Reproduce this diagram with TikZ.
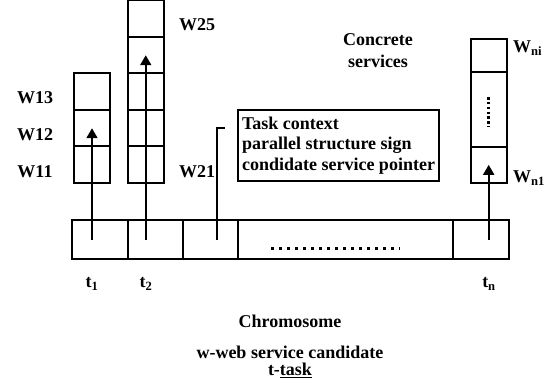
\documentclass[tikz,border=0pt]{standalone}
\usepackage{fontspec}
\setmainfont{Liberation Serif}
\usetikzlibrary{positioning,arrows.meta}
\begin{document}
\begin{tikzpicture}[x=1pt, y=-1pt,
    cell/.style={draw, line width=2pt, inner sep=0pt, outer sep=0pt,
      minimum width=36pt, minimum height=36.5pt},
    gene/.style={draw, line width=2pt, inner sep=0pt, outer sep=0pt,
      minimum height=38.5pt},
    link/.style={line width=2pt, -{Triangle[width=11pt,length=10pt]}},
    lead/.style={line width=2pt},
    dotrow/.style={line width=3pt, dash pattern=on 3pt off 5pt},
    lbl/.style={font=\fontsize{18}{22}\selectfont\bfseries, inner sep=0pt, align=center}]
  \useasboundingbox (0,0) rectangle (550,379);

  % chromosome: one gene per task
  \node[gene, minimum width=55.5pt, anchor=north west] (c1) at (72,220.5) {};
  \node[gene, minimum width=55pt, right=0pt of c1] (c2) {};
  \node[gene, minimum width=55.3pt, right=0pt of c2] (c3) {};
  \node[gene, minimum width=215.5pt, right=0pt of c3] (cdots) {};
  \node[gene, minimum width=55.6pt, right=0pt of cdots] (cn) {};
  \draw[dotrow] (271,248.5) -- (400,248.5);

  % candidate services of t1
  \node[cell, anchor=south west] (w11) at (74,183) {};
  \node[cell, above=0pt of w11] (w12) {};
  \node[cell, above=0pt of w12] (w13) {};
  % candidate services of t2
  \node[cell, minimum width=36.5pt, anchor=south west] (w21) at (127.5,183) {};
  \foreach \i [evaluate=\i as \j using int(\i+1)] in {1,...,4}
    \node[cell, minimum width=36.5pt, above=0pt of w2\i] (w2\j) {};
  % candidate services of tn
  \node[cell, minimum height=36.3pt, anchor=south west] (wn1) at (470.7,183) {};
  \node[cell, minimum height=75pt, above=0pt of wn1] (wdots) {};
  \node[cell, minimum height=32.4pt, above=0pt of wdots] (wni) {};
  \draw[line width=2.5pt, dash pattern=on 2.5pt off 2.3pt] (wdots.center) ++(0,-12) -- ++(0,30);

  % gene -> chosen service
  \draw[link] (w12.center |- c1.center) -- (w12.center);
  \draw[link] (w24.center |- c2.center) -- (w24.center);
  \draw[link] (wn1.center |- cn.center) -- (wn1.center);

  % gene content
  \node[draw, line width=2pt, anchor=north west, inner sep=0pt,
    minimum width=201.6pt, minimum height=70.7pt, align=left,
    font=\fontsize{18}{20.5}\selectfont\bfseries] (ctx) at (236.7,109.3)
    {Task context\\parallel structure sign\\condidate service pointer};
  \coordinate (hook) at (225,128);
  \draw[lead] ([xshift=7pt]c3.center) |- (hook);

  % labels
  \node[lbl] (l13) at (35,98) {W13};
  \node[lbl] (l12) at (35,135) {W12};
  \node[lbl] (l11) at (35,172) {W11};
  \node[lbl] (l25) at (197,25) {W25};
  \node[lbl] (l21) at (197,172) {W21};
  \node[lbl] (conc) at (378,51) {Concrete\\services};
  \node[lbl, anchor=west] (lni) at (513,48) {W\textsubscript{ni}};
  \node[lbl, anchor=west] (ln1) at (513,178) {W\textsubscript{n1}};
  \node[lbl] (t1) at (92,284) {t\textsubscript{1}};
  \node[lbl] (t2) at (146,284) {t\textsubscript{2}};
  \node[lbl] (tn) at (489,284) {t\textsubscript{n}};
  \node[lbl] (chrom) at (290,321) {Chromosome};
  \node[lbl] (cand) at (290,352) {w-web service candidate};
  \node[lbl] (task) at (290,370) {t-\underline{task}};
\end{tikzpicture}
\end{document}
